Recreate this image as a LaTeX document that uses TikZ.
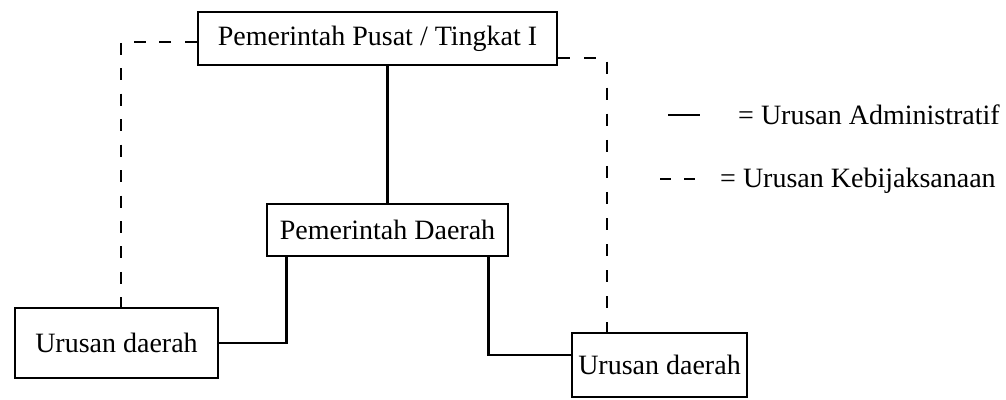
\documentclass[tikz,border=0pt]{standalone}
\usepackage{fontspec}
\setmainfont{Liberation Serif}
\usetikzlibrary{calc}
\begin{document}
\begin{tikzpicture}[x=1pt, y=-1pt,
  every node/.style={font=\fontsize{28}{30}\selectfont, inner sep=0pt},
  unit/.style={draw, line width=2.8pt, minimum width=#1},
  admin/.style={line width=2.8pt},
  policy/.style={line width=2.8pt, dash pattern=on 12pt off #1},
  legtext/.style={anchor=base west}]
\useasboundingbox (0,0) rectangle (1006,399);

% organisation units
\node[unit=359pt, minimum height=53pt] (pusat) at (377.5,38.5) {Pemerintah Pusat / Tingkat I};
\node[unit=241pt, minimum height=52pt] (daerah) at (387.5,230) {Pemerintah Daerah};
\node[unit=203pt, minimum height=70pt] (ukiri) at (116.5,343) {Urusan daerah};
\node[unit=175pt, minimum height=64pt] (ukanan) at (659.5,365) {Urusan daerah};

% administrative lines
\draw[admin] (daerah.north |- pusat.south) -- (daerah.north);
\draw[admin] ($(daerah.south west)+(21,0)$) |- (ukiri.east);
\draw[admin] ($(daerah.south east)+(-21,0)$) |- ($(ukanan.west)+(0,-10)$);

% policy lines (gaps chosen so both ends finish on a dash)
\draw[policy=13.46pt] ($(pusat.west)+(0,3.5)$) -| ($(ukiri.north)+(4.5,0)$);
\draw[policy=14.08pt] ($(pusat.east)+(0,19.5)$) -| ($(ukanan.north)+(-52.5,0)$);

% legend
\coordinate (la1) at (668,115);
\coordinate (la2) at (700,115);
\coordinate (lb1) at (660,179);
\coordinate (lb2) at (696,179);
\draw[admin] (la1) -- (la2);
\draw[line width=2.8pt, dash pattern=on 11pt off 13pt] (lb1) -- (lb2);
\node[legtext] (ta) at (738,124) {= Urusan Administratif};
\node[legtext] (tb) at (720,187) {= Urusan Kebijaksanaan};
\end{tikzpicture}
\end{document}
